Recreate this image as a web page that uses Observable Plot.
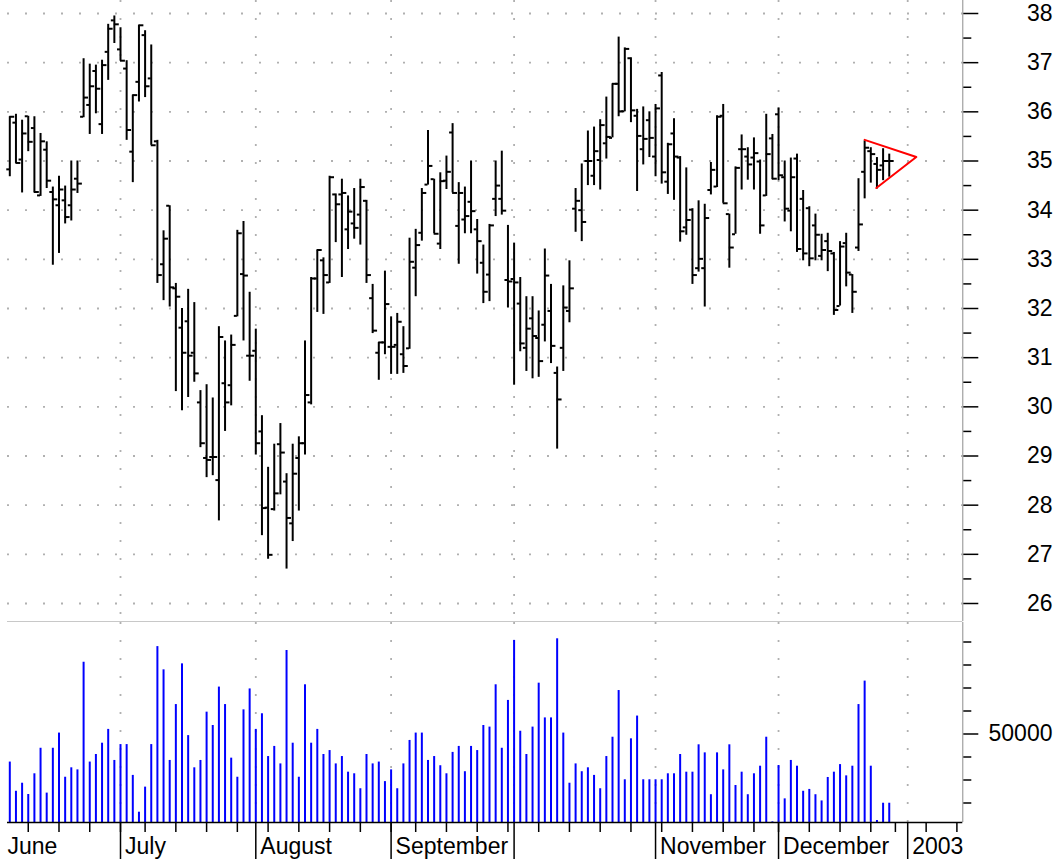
<!DOCTYPE html>
<html><head><meta charset="utf-8">
<script src="https://cdn.jsdelivr.net/npm/d3@7"></script>
<script src="https://cdn.jsdelivr.net/npm/@observablehq/plot@0.6"></script>
<style>
html,body{margin:0;padding:0;background:#fff;}
#chart svg{display:block;}
</style></head><body><div id="chart"></div>
<script>
// Daily OHLC (trading-day index 0 = first visible bar, early June 2002)
const opens = [
34.83,35.78,35.03,35.91,35.67,34.3,35.23,34.37,34.1,34.2,
34.1,34.64,35.9,36.14,36.83,35.75,37.22,37.86,37.27,36.88,
35.19,36.61,37.56,36.68,35.4,32.9,34.09,32.41,31.61,31.74,
31.1,30.09,28.96,28.98,28.51,30.48,30.44,31.85,32.7,31.04,
31.14,29.5,27.95,27.92,29.24,28.48,27.63,28.96,29.26,30.09,
32.61,32.98,32.53,34.32,34.32,33.61,33.73,33.91,34.19,32.21,
31.1,31.31,31.22,31.26,31.07,31.19,32.83,33.54,34.52,34.63,
33.32,34.6,35.58,33.68,33.81,34.17,33.61,32.93,32.69,34.23,
34.23,32.58,32.6,32.1,31.2,31.8,31.4,31.67,31.95,30.69,
31.2,31.95,34.03,34.0,35.0,34.7,35.02,35.36,35.47,36.57,
36.01,37.09,35.92,35.24,35.83,35.09,36.74,34.58,35.56,35.07,
33.65,34.01,32.82,32.82,34.41,34.48,35.92,33.92,33.51,35.24,
35.09,35.07,34.99,34.3,35.46,35.95,34.67,33.99,35.05,34.23,
34.04,33.69,33.07,33.37,33.12,32.05,33.33,32.69,33.24,34.78,
35.2,34.94,34.91,35.0];
const highs = [
35.9,35.95,35.83,35.91,35.9,35.56,35.39,34.47,34.69,34.49,
35.0,35.0,37.08,36.97,36.95,37.05,37.78,37.95,37.71,37.04,
36.34,37.76,37.65,37.36,35.42,33.58,34.09,32.51,32.0,32.39,
32.12,30.33,30.45,30.18,31.63,31.34,31.46,33.59,33.77,32.33,
31.58,29.82,28.77,29.24,29.66,28.64,29.24,29.39,31.34,32.63,
33.19,33.03,34.69,34.33,34.63,34.29,34.44,34.63,34.2,32.49,
31.31,32.76,31.83,31.9,31.63,33.43,33.61,34.44,35.62,34.63,
34.76,35.1,35.76,34.56,34.47,35.0,33.81,33.29,33.71,35.0,
35.2,33.69,33.33,32.63,32.24,32.24,31.95,33.21,32.49,30.81,
32.46,32.97,34.44,34.94,35.61,35.69,35.84,36.3,36.57,37.52,
37.3,37.1,36.05,36.1,36.0,36.15,36.8,35.36,35.86,35.09,
34.86,34.03,34.19,34.12,34.97,35.92,36.15,33.92,34.88,35.53,
35.27,35.47,35.02,35.95,35.54,36.08,35.0,35.06,35.14,34.4,
34.07,33.92,33.51,33.53,33.14,33.36,33.53,32.69,34.64,35.41,
35.27,35.07,35.25,35.14];
const lows = [
34.68,34.95,34.35,35.19,34.35,34.28,34.44,32.88,33.12,33.72,
33.78,34.34,35.88,35.54,35.96,35.54,36.64,37.39,37.03,35.42,
34.56,36.2,36.29,35.32,32.51,32.16,32.03,30.31,29.92,30.19,
30.5,29.17,28.56,28.6,27.68,29.5,30.02,31.83,31.34,30.52,
29.02,27.38,26.9,27.88,28.21,26.7,27.26,27.88,29.02,30.04,
31.92,31.88,32.51,33.34,32.63,33.2,33.41,33.29,32.51,31.49,
30.54,31.06,30.66,30.66,30.68,31.17,32.24,33.37,34.51,33.52,
33.2,34.42,34.35,32.9,33.52,33.52,32.7,32.1,32.14,33.87,
33.9,32.01,30.44,31.12,30.72,30.57,30.6,31.32,30.88,29.14,
30.72,31.71,33.55,33.36,34.5,34.5,34.41,35.04,35.47,35.9,
36.0,35.78,34.38,34.92,35.07,34.68,34.53,34.32,34.2,33.35,
33.49,32.49,32.74,32.03,34.31,34.46,34.14,32.82,33.51,34.41,
34.61,34.41,33.51,34.28,34.62,34.6,33.76,33.56,33.14,32.97,
32.85,32.97,32.97,32.75,31.86,32.05,32.44,31.9,33.16,34.23,
34.55,34.43,34.6,34.67];
const closes = [
35.9,34.96,35.56,35.39,34.37,35.4,34.6,34.22,34.42,33.86,
34.42,34.54,36.29,36.52,36.47,36.95,37.69,37.78,37.04,35.63,
36.34,37.76,36.52,35.32,32.68,33.42,32.43,32.24,31.1,31.04,
30.68,29.26,28.92,28.98,31.42,30.09,31.26,33.53,32.67,31.04,
29.26,27.94,26.99,28.24,29.07,27.74,28.64,29.26,30.24,32.61,
33.19,32.68,34.67,34.12,34.35,33.97,33.64,34.47,32.68,31.55,
31.31,32.09,31.22,31.73,30.83,32.95,33.29,34.35,34.9,33.52,
34.59,34.78,34.35,34.35,33.88,33.98,33.37,32.34,33.69,34.5,
33.99,32.55,32.53,31.29,31.59,31.44,30.93,32.67,31.24,30.15,
32.02,32.41,34.19,33.76,35.0,35.2,35.73,35.49,36.57,36.01,
37.28,36.03,35.51,35.45,35.47,36.07,34.77,35.34,35.09,33.57,
33.8,32.68,33.01,33.84,34.82,35.9,34.14,33.24,34.86,35.24,
34.93,35.16,33.69,35.14,34.64,34.71,34.03,34.67,33.21,33.12,
33.02,33.5,33.19,33.17,31.97,33.26,32.73,32.34,33.71,35.27,
35.14,34.82,35.0,35.0];
const volumes = [
37800,25100,28600,23700,32700,43800,24300,43800,50400,31200,
35300,34400,81200,37800,41100,46000,52000,38500,45400,45400,
32000,16000,26900,45400,88000,77900,38500,62800,80500,49300,
35300,38500,59500,53700,70400,62800,39500,31200,60500,69600,
52000,58800,40200,44600,37000,86300,46000,31200,71400,46000,
52000,41100,42800,37000,40200,33400,32700,26200,41100,37000,
37800,29300,34400,26200,37000,47200,50400,50400,38500,40200,
36200,32700,42000,44600,33600,44600,42800,53700,53000,71400,
43800,64600,90700,51200,41100,53000,72100,57000,57000,91400,
50400,28600,37000,33600,35300,32000,26200,40200,48600,68900,
30100,47900,57800,30100,30100,30100,30100,32700,32700,41100,
33400,33400,45300,41800,23600,41800,34400,45300,27600,33400,
23600,32700,36000,48600,11800,36300,21800,38500,36000,25100,
25900,23600,20900,31100,33400,36700,31800,36000,62800,73000,
36000,12400,19900,19900];

// Calendar ticks (trading-day indices)
const firstMonthName = "June";
const monthNames = ["July","August","September","November","December","2003"];
const monthLabelIdx = [18,40,62,105,125,146];
const monthStartIdx = [18,40,62,82,105,125,146];
const weekStartIdx = [3,8,13,18,22,27,32,37,42,47,52,57,62,66,71,76,81,86,91,96,101,106,111,116,121,125,130,135,140,144,149,154];

// Axis ticks
const priceMajorTicks = [26,27,28,29,30,31,32,33,34,35,36,37,38];
const priceMinorTicks = [26.5,27.5,28.5,29.5,30.5,31.5,32.5,33.5,34.5,35.5,36.5,37.5];
const volMajorTicks = [50000];
const volMinorTicks = [20000,30000,40000,60000,70000,80000,90000];

// Triangle pattern
const triIdx = [139.0, 147.4, 140.9];
const triPrice = [35.43, 35.08, 34.45];

const bars = opens.map((o, i) => ({i, open: o, high: highs[i], low: lows[i], close: closes[i], volume: volumes[i]}));
const triangle = triIdx.map((x, k) => ({i: x, p: triPrice[k]}));
const monthLabels = monthNames.map((n, k) => ({name: n, idx: monthLabelIdx[k]}));

const xDomain = [-0.374, 154.96];
const priceDomain = [25.6339, 38.2644];
const volDomain = [11520, 98480];
const W = 1061;
const FS = 23;
const font = "'Liberation Sans', Arial, Helvetica, sans-serif";
const style = {fontFamily: font, fontSize: FS + "px", background: "white", color: "black"};
const gridStyle = {stroke: "#b0b0b0", strokeWidth: 1.8, strokeDasharray: "2,16"};

const price = Plot.plot({
  width: W, height: 622, marginLeft: 7, marginRight: 98.7, marginTop: 0, marginBottom: 1,
  style,
  x: {domain: xDomain, axis: null},
  y: {domain: priceDomain},
  marks: [
    Plot.ruleY(priceMajorTicks, gridStyle),
    Plot.ruleX(monthStartIdx, gridStyle),
    Plot.ruleY([priceDomain[0]], {stroke: "#c8c8c8", strokeWidth: 1}),
    Plot.ruleX([xDomain[1]], {stroke: "#8c8c8c", strokeWidth: 1}),
    Plot.ruleX(bars, {x: "i", y1: "low", y2: "high", stroke: "black", strokeWidth: 2}),
    Plot.ruleY(bars, {y: "open", x1: d => d.i - 0.49, x2: d => d.i, stroke: "black", strokeWidth: 2}),
    Plot.ruleY(bars, {y: "close", x1: d => d.i, x2: d => d.i + 0.8, stroke: "black", strokeWidth: 2}),
    Plot.line(triangle, {x: "i", y: "p", stroke: "red", strokeWidth: 2}),
    Plot.axisY(priceMinorTicks, {anchor: "right", tickSize: 8, tickFormat: () => "", label: null, strokeWidth: 1.5}),
    Plot.axisY(priceMajorTicks, {anchor: "right", tickSize: 15, tickFormat: () => "", label: null, strokeWidth: 1.5}),
    Plot.text(priceMajorTicks, {y: d => d, text: d => String(d), frameAnchor: "right", dx: 89.7, textAnchor: "end", fontSize: FS, fill: "black"})
  ]
});

const vol = Plot.plot({
  width: W, height: 237, marginLeft: 7, marginRight: 98.7, marginTop: 0, marginBottom: 37,
  style,
  x: {domain: xDomain},
  y: {domain: volDomain},
  marks: [
    Plot.ruleX(monthStartIdx, gridStyle),
    Plot.ruleX(bars, {x: "i", y1: volDomain[0], y2: "volume", stroke: "#0000ff", strokeWidth: 2}),
    Plot.ruleX([xDomain[1]], {stroke: "#8c8c8c", strokeWidth: 1}),
    Plot.ruleY([volDomain[0]], {stroke: "black", strokeWidth: 1.5}),
    Plot.axisY(volMinorTicks, {anchor: "right", tickSize: 8, tickFormat: () => "", label: null, strokeWidth: 1.5}),
    Plot.axisY(volMajorTicks, {anchor: "right", tickSize: 15, tickFormat: () => "", label: null, strokeWidth: 1.5}),
    Plot.text(volMajorTicks, {y: d => d, text: d => String(d), frameAnchor: "right", dx: 89.7, textAnchor: "end", fontSize: FS, fill: "black"}),
    Plot.axisX(weekStartIdx, {anchor: "bottom", tickSize: 10, tickFormat: () => "", label: null, strokeWidth: 1.5}),
    Plot.axisX(monthStartIdx, {anchor: "bottom", tickSize: 37, tickFormat: () => "", label: null, strokeWidth: 1.5}),
    Plot.text(monthLabels, {x: "idx", text: "name", frameAnchor: "bottom", textAnchor: "start", lineAnchor: "top", dx: 4.5, dy: 15.2, fontSize: FS, fill: "black"}),
    Plot.text([firstMonthName], {x: xDomain[0], text: d => d, frameAnchor: "bottom", textAnchor: "start", lineAnchor: "top", dx: 0, dy: 15.2, fontSize: FS, fill: "black"})
  ]
});

const root = document.getElementById("chart");
root.appendChild(price);
root.appendChild(vol);
</script>
</body></html>
